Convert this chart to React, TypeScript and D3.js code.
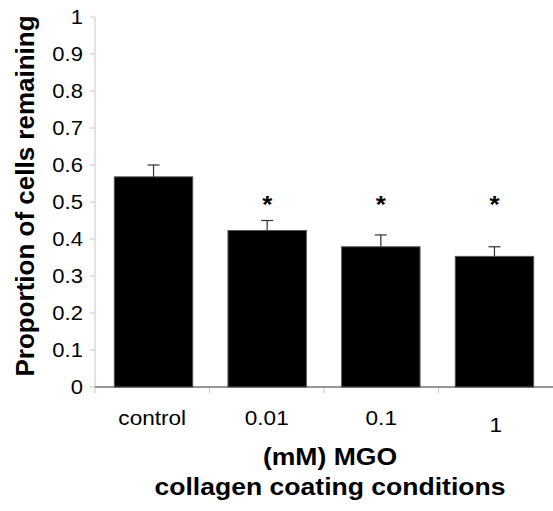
import React from "react";
import * as d3 from "d3";

const categories = ["control", "0.01", "0.1", "1"];
const means = [0.568, 0.423, 0.379, 0.353];
const errors = [0.032, 0.027, 0.032, 0.026];
const significant = [false, true, true, true];
const yTicks = [0, 0.1, 0.2, 0.3, 0.4, 0.5, 0.6, 0.7, 0.8, 0.9, 1];
const yTitle = "Proportion of cells remaining";
const xTitle1 = "(mM) MGO";
const xTitle2 = "collagen coating conditions";

const W = 553;
const H = 511;
const left = 95;
const right = 553;
const top = 17;
const bottom = 387;
const font = "'Liberation Sans', Arial, sans-serif";
const sx = 1.13;

export default function App() {
  const x = d3.scaleBand<string>().domain(categories).range([left, right]).paddingInner(0.31).paddingOuter(0.17);
  const xb = d3.scaleBand<string>().domain(categories).range([left, right]);
  const y = d3.scaleLinear().domain([0, 1]).range([bottom, top]);
  return (
    <svg width={W} height={H} style={{ position: "absolute", left: 0, top: 0, background: "#fff" }}>
      {/* y axis */}
      <line x1={left} x2={left} y1={top} y2={bottom} stroke="#c8c8c8" strokeWidth={1} />
      {yTicks.map((t) => (
        <g key={t}>
          <line x1={left - 5} x2={left} y1={y(t)} y2={y(t)} stroke="#c8c8c8" />
          <text transform={`translate(83,${y(t)}) scale(${sx},1)`} dy="0.35em" textAnchor="end" fontFamily={font} fontSize={19.5} fill="#000">
            {d3.format("")(t)}
          </text>
        </g>
      ))}
      {/* x ticks */}
      {categories.map((c) => (
        <line key={c} x1={xb(c)!} x2={xb(c)!} y1={bottom} y2={bottom + 6} stroke="#c8c8c8" />
      ))}
      {/* bars */}
      {categories.map((c, i) => {
        const cx = x(c)! + x.bandwidth() / 2;
        return (
          <g key={c}>
            <rect x={x(c)!} y={y(means[i])} width={x.bandwidth()} height={bottom - y(means[i])} fill="#000" stroke="#555" strokeWidth={1} />
            <line x1={cx} x2={cx} y1={y(means[i])} y2={y(means[i] + errors[i])} stroke="#333" strokeWidth={1.2} />
            <line x1={cx - 6} x2={cx + 6} y1={y(means[i] + errors[i])} y2={y(means[i] + errors[i])} stroke="#333" strokeWidth={1.2} />
            {significant[i] && (
              <text transform={`translate(${cx},213) scale(${sx},1)`} textAnchor="middle" fontFamily={font} fontSize={23} fontWeight="bold">*</text>
            )}
            <text transform={`translate(${xb(c)! + xb.bandwidth() / 2},${c === "1" ? 431.5 : 425}) scale(${sx},1)`} textAnchor="middle" fontFamily={font} fontSize={20}>
              {c}
            </text>
          </g>
        );
      })}
      {/* x axis */}
      <line x1={left} x2={right} y1={bottom} y2={bottom} stroke="#333" strokeWidth={1.2} />
      {/* titles */}
      <text transform={`translate(34,196) rotate(-90)`} textAnchor="middle" fontFamily={font} fontSize={26} fontWeight="bold">
        {yTitle}
      </text>
      <text transform={`translate(330,465) scale(${sx},1)`} textAnchor="middle" fontFamily={font} fontSize={23.5} fontWeight="bold">{xTitle1}</text>
      <text transform={`translate(330,495) scale(${sx},1)`} textAnchor="middle" fontFamily={font} fontSize={23.5} fontWeight="bold">{xTitle2}</text>
    </svg>
  );
}
